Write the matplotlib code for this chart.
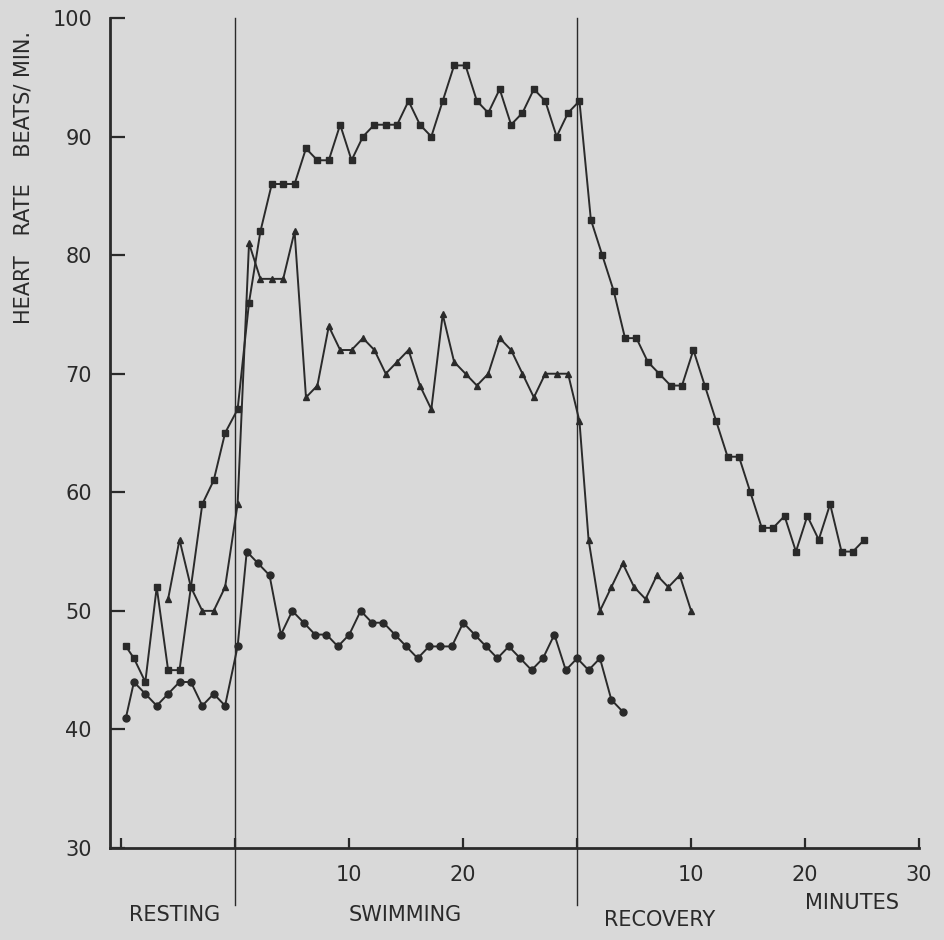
import numpy as np
import matplotlib
matplotlib.use("Agg")
import matplotlib.pyplot as plt

# minutes on one running scale: resting 0-10, swimming 10-40, recovery 40-70
rest_t = [0.4, 1.1, 2.1, 3.1, 4.1, 5.1, 6.1, 7.1, 8.1, 9.1, 10.2]
swim_t = np.arange(11.2, 40.3, 1.0)
rec_sq_t = np.arange(41.2, 65.3, 1.0)
rec_tri_t = np.arange(41.0, 50.1, 1.0)
circ_t = np.arange(11.0, 44.1, 1.0)

# squares (top trace)
sq_rest = [47, 46, 44, 52, 45, 45, 52, 59, 61, 65, 67]
sq_swim = [76, 82, 86, 86, 86, 89, 88, 88, 91, 88, 90, 91, 91, 91, 93,
           91, 90, 93, 96, 96, 93, 92, 94, 91, 92, 94, 93, 90, 92, 93]
sq_rec = [83, 80, 77, 73, 73, 71, 70, 69, 69, 72, 69, 66, 63, 63, 60,
          57, 57, 58, 55, 58, 56, 59, 55, 55, 56]

# triangles (middle trace), starts part way through rest
tri_rest = [51, 56, 52, 50, 50, 52, 59]
tri_swim = [81, 78, 78, 78, 82, 68, 69, 74, 72, 72, 73, 72, 70, 71, 72,
            69, 67, 75, 71, 70, 69, 70, 73, 72, 70, 68, 70, 70, 70, 66]
tri_rec = [56, 50, 52, 54, 52, 51, 53, 52, 53, 50]

# circles (bottom trace)
circ_rest = [41, 44, 43, 42, 43, 44, 44, 42, 43, 42, 47]
circ_after = [55, 54, 53, 48, 50, 49, 48, 48, 47, 48, 50, 49, 49, 48, 47,
              46, 47, 47, 47, 49, 48, 47, 46, 47, 46, 45, 46, 48, 45, 46,
              45, 46, 42.5, 41.5]

xticks = [0, 10, 20, 30, 40, 50, 60, 70]
xtick_labels = ["", "", "10", "20", "", "10", "20", "30"]
yticks = [30, 40, 50, 60, 70, 80, 90, 100]
phase_lines = [10, 40]

bg = "#d9d9d9"
ink = "#2a2a2a"

fig = plt.figure(figsize=(9.45, 9.40), dpi=100)
fig.patch.set_facecolor(bg)
ax = fig.add_axes([110 / 945, 92 / 940, 809 / 945, 830 / 940])
ax.set_facecolor(bg)

ax.set_xlim(-1, 70)
ax.set_ylim(30, 100)

for xv in phase_lines:
    ax.plot([xv, xv], [25.2, 100], color=ink, lw=1.0, clip_on=False, zorder=1)

ax.plot(list(rest_t) + list(swim_t) + list(rec_sq_t), sq_rest + sq_swim + sq_rec,
        marker="s", markersize=4.5, color=ink, lw=1.4, zorder=3, clip_on=False)
ax.plot(rest_t[4:] + list(swim_t) + list(rec_tri_t), tri_rest + tri_swim + tri_rec,
        marker="^", markersize=5, color=ink, lw=1.4, zorder=3, clip_on=False)
ax.plot(list(rest_t) + list(circ_t), circ_rest + circ_after,
        marker="o", markersize=5, color=ink, lw=1.4, zorder=3, clip_on=False)

for s in ["top", "right"]:
    ax.spines[s].set_visible(False)
for s in ["left", "bottom"]:
    ax.spines[s].set_color(ink)
    ax.spines[s].set_linewidth(2.0)

ax.set_xticks(xticks)
ax.set_xticklabels(xtick_labels)
ax.set_yticks(yticks)
ax.tick_params(axis="x", direction="in", length=7, width=1.6, colors=ink,
               labelsize=15, pad=12)
ax.tick_params(axis="y", direction="in", length=11, width=1.6, colors=ink,
               labelsize=15, pad=13)

fig.text(24 / 945, 1 - 178 / 940, "HEART   RATE    BEATS/ MIN.", rotation=90,
         ha="center", va="center", fontsize=15, color=ink)

for label, x, y in [("RESTING", 175, 915), ("SWIMMING", 405, 915),
                    ("RECOVERY", 660, 920), ("MINUTES", 852, 903)]:
    fig.text(x / 945, 1 - y / 940, label, ha="center", va="center",
             fontsize=15, color=ink)

fig.savefig("out.png", dpi=100, facecolor=bg)
